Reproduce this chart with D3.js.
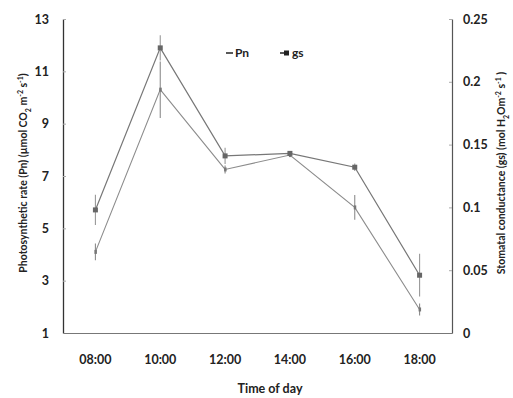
<!DOCTYPE html>
<html>
<head>
<meta charset="utf-8">
<script src="https://cdn.jsdelivr.net/npm/d3@7"></script>
<style>
  body { margin: 0; background: #fff; }
  svg text { font-family: Lato, "Open Sans", sans-serif; font-weight: bold; fill: #222; }
</style>
</head>
<body>
<div id="chart"></div>
<script>
// data
var times = ["08:00", "10:00", "12:00", "14:00", "16:00", "18:00"];
var pn = [4.1, 10.3, 7.25, 7.8, 5.8, 1.9];          // left axis
var pnErr = [0.32, 1.08, 0.15, 0.05, 0.47, 0.23];
var gs = [0.098, 0.227, 0.141, 0.143, 0.132, 0.046]; // right axis
var gsErr = [0.012, 0.010, 0.0065, 0.002, 0.003, 0.017];
var leftTicks = [1, 3, 5, 7, 9, 11, 13];
var rightTicks = [0, 0.05, 0.1, 0.15, 0.2, 0.25];

var W = 513, H = 398;
var margin = {top: 19, right: 61, bottom: 65, left: 63};
var width = W - margin.left - margin.right,
    height = H - margin.top - margin.bottom;

var svg = d3.select("#chart").append("svg")
    .attr("width", W).attr("height", H);
var g = svg.append("g")
    .attr("transform", "translate(" + margin.left + "," + margin.top + ")");

var x = d3.scaleBand().domain(times).range([0, width]);
var yL = d3.scaleLinear().domain([1, 13]).range([height, 0]);
var yR = d3.scaleLinear().domain([0, 0.25]).range([height, 0]);
var cx = function(i) { return x(times[i]) + x.bandwidth() / 2; };

// axes
var axL = g.append("g")
    .call(d3.axisLeft(yL).tickValues(leftTicks).tickSizeInner(-3).tickSizeOuter(0).tickPadding(14));
axL.select(".domain").attr("stroke", "#333").attr("stroke-width", 1.3);
axL.selectAll(".tick line").attr("stroke", "#aaa");
axL.selectAll("text").style("font-size", "12.5px");

var axR = g.append("g").attr("transform", "translate(" + width + ",0)")
    .call(d3.axisRight(yR).tickValues(rightTicks).tickSizeInner(-3).tickSizeOuter(0).tickPadding(11)
      .tickFormat(function(d) { return d === 0 ? "0" : String(d); }));
axR.select(".domain").attr("stroke", "#555").attr("stroke-width", 1.2);
axR.selectAll(".tick line").attr("stroke", "#aaa");
axR.selectAll("text").style("font-size", "12.5px");

var axB = g.append("g").attr("transform", "translate(0," + height + ")")
    .call(d3.axisBottom(x).tickSize(0).tickPadding(22));
axB.select(".domain").attr("stroke", "#777").attr("stroke-width", 1.2);
axB.selectAll("text").style("font-size", "12.5px");

// lines
var lineL = d3.line().x(function(d, i) { return cx(i); }).y(function(d) { return yL(d); });
var lineR = d3.line().x(function(d, i) { return cx(i); }).y(function(d) { return yR(d); });

g.append("path").datum(pn).attr("d", lineL)
    .attr("fill", "none").attr("stroke", "#8c8c8c").attr("stroke-width", 1.1);
g.append("path").datum(gs).attr("d", lineR)
    .attr("fill", "none").attr("stroke", "#777").attr("stroke-width", 1.2);

// error bars
g.selectAll(".errPn").data(pn).enter().append("line")
    .attr("x1", function(d, i) { return cx(i); }).attr("x2", function(d, i) { return cx(i); })
    .attr("y1", function(d, i) { return yL(d - pnErr[i]); })
    .attr("y2", function(d, i) { return yL(d + pnErr[i]); })
    .attr("stroke", "#8c8c8c").attr("stroke-width", 1.1);
g.selectAll(".errGs").data(gs).enter().append("line")
    .attr("x1", function(d, i) { return cx(i); }).attr("x2", function(d, i) { return cx(i); })
    .attr("y1", function(d, i) { return yR(d - gsErr[i]); })
    .attr("y2", function(d, i) { return yR(d + gsErr[i]); })
    .attr("stroke", "#999").attr("stroke-width", 1.1);

// markers
g.selectAll(".mPn").data(pn).enter().append("rect")
    .attr("x", function(d, i) { return cx(i) - 1; })
    .attr("y", function(d) { return yL(d) - 2; })
    .attr("width", 2.5).attr("height", 4).attr("fill", "#777");
g.selectAll(".mGs").data(gs).enter().append("rect")
    .attr("x", function(d, i) { return cx(i) - 2.5; })
    .attr("y", function(d) { return yR(d) - 2.5; })
    .attr("width", 5).attr("height", 5).attr("fill", "#666");

// legend
var leg = svg.append("g").attr("transform", "translate(226,53)");
leg.append("line").attr("x1", 0).attr("x2", 7).attr("stroke", "#222").attr("stroke-width", 1.5);
leg.append("text").attr("x", 9).attr("y", 4).style("font-size", "12px").text("Pn");
leg.append("line").attr("x1", 54).attr("x2", 63).attr("stroke", "#222").attr("stroke-width", 1.5);
leg.append("rect").attr("x", 58).attr("y", -2.5).attr("width", 5).attr("height", 5).attr("fill", "#222");
leg.append("text").attr("x", 66).attr("y", 4).style("font-size", "12px").text("gs");

// axis titles
svg.append("text").attr("x", 270).attr("y", 393).attr("text-anchor", "middle")
    .style("font-size", "12.5px").text("Time of day");

var tl = svg.append("text")
    .attr("transform", "translate(27,173) rotate(-90)")
    .attr("text-anchor", "middle").style("font-size", "10.5px");
tl.append("tspan").text("Photosynthetic rate (Pn) (\u00b5mol CO");
tl.append("tspan").attr("baseline-shift", "sub").style("font-size", "7px").text("2");
tl.append("tspan").text(" m");
tl.append("tspan").attr("baseline-shift", "super").style("font-size", "7px").text("-2");
tl.append("tspan").text(" s");
tl.append("tspan").attr("baseline-shift", "super").style("font-size", "7px").text("-1");
tl.append("tspan").text(")");

var tr = svg.append("text")
    .attr("transform", "translate(505,173) rotate(-90)")
    .attr("text-anchor", "middle").style("font-size", "10.5px");
tr.append("tspan").text("Stomatal conductance (gs) (mol H");
tr.append("tspan").attr("baseline-shift", "sub").style("font-size", "7px").text("2");
tr.append("tspan").text("Om");
tr.append("tspan").attr("baseline-shift", "super").style("font-size", "7px").text("-2");
tr.append("tspan").text(" s");
tr.append("tspan").attr("baseline-shift", "super").style("font-size", "7px").text("-1");
tr.append("tspan").text(" )");
</script>
</body>
</html>
